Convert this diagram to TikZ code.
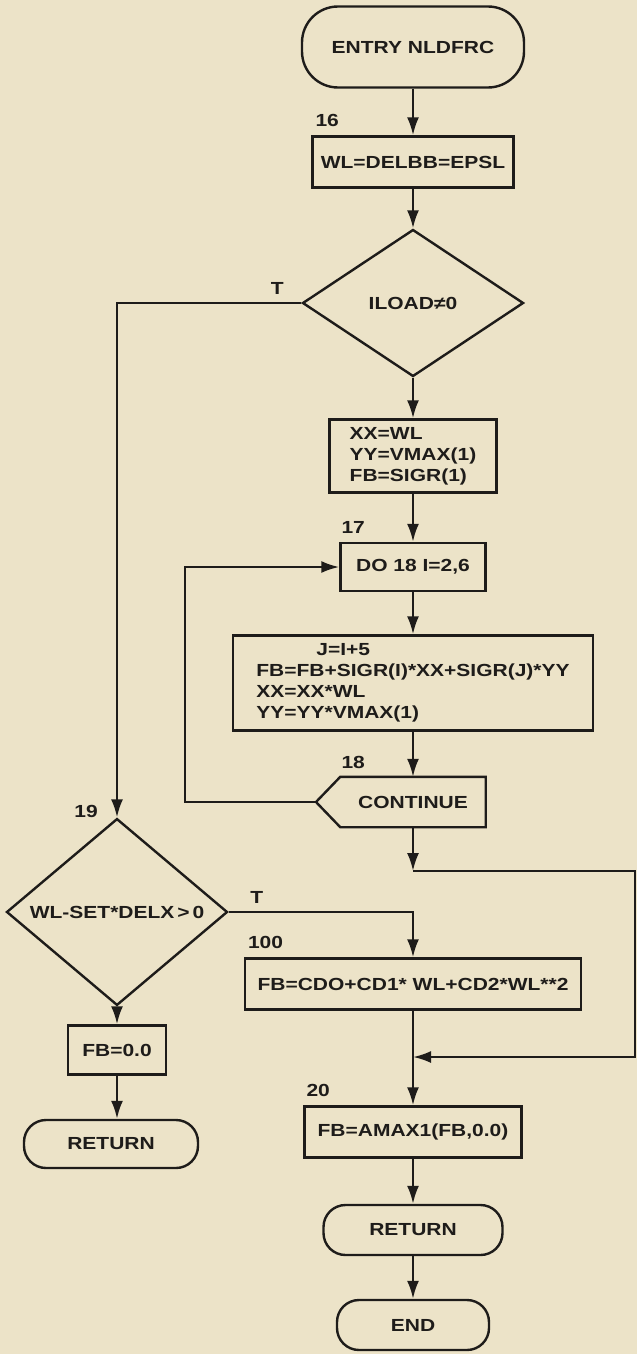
\documentclass[tikz,border=0pt]{standalone}
\usepackage{fontspec}
\newfontfamily\chartfont[FakeStretch=1.2]{Liberation Sans}
\usetikzlibrary{shapes.geometric,arrows.meta}
\definecolor{paper}{RGB}{236,227,200}
\definecolor{ink}{RGB}{30,28,26}

\begin{document}
\begin{tikzpicture}[x=1pt,y=-1pt,
    every node/.style={font=\chartfont\bfseries\fontsize{17.5}{21}\selectfont, text=ink},
    box/.style={draw=ink, line width=2.4pt, rectangle, inner sep=0pt},
    term/.style={box, rounded corners=22pt},
    decision/.style={draw=ink, line width=2.4pt, diamond, inner sep=0pt},
    num/.style={anchor=south west, inner sep=0pt},
    flow/.style={draw=ink, line width=2.4pt, ->, >={Latex[length=18pt,width=12pt]}},
    wire/.style={draw=ink, line width=2.4pt}]

    \def \colx {413}
    \def \lcolx {117}
    % paper
    \fill[paper] (0,0) rectangle (637,1354);

    % main column
    \node[term, minimum width=222pt, minimum height=81pt, rounded corners=36pt] (entry) at (\colx,47) {ENTRY NLDFRC};
    \node[box, minimum width=201pt, minimum height=51pt] (init) at (\colx,162) {WL=DELBB=EPSL};
    \node[decision, minimum width=221pt, minimum height=147pt] (iload) at (\colx,303) {ILOAD≠0};
    \node[box, minimum width=167pt, minimum height=73pt, align=left] (setxy) at (\colx,456) {XX=WL\\YY=VMAX(1)\\FB=SIGR(1)};
    \node[box, minimum width=145pt, minimum height=48pt] (doloop) at (\colx,567) {DO 18 I=2,6};
    \node[box, minimum width=360pt, minimum height=95pt, align=left] (body) at (\colx,683)
      {\hspace*{60pt}J=I+5\\FB=FB+SIGR(I)*XX+SIGR(J)*YY\\XX=XX*WL\\YY=YY*VMAX(1)};
    \node[minimum width=145pt, minimum height=50pt, inner sep=0pt] (cont) at (\colx,802) {CONTINUE};
    \coordinate (contpt) at (316,802);
    \draw[wire] (cont.north west) -- (contpt) -- (cont.south west) -- (cont.south east) -- (cont.north east) -- cycle;
    \node[box, minimum width=336pt, minimum height=51pt] (calc) at (\colx,984) {FB=CDO+CD1* WL+CD2*WL**2};
    \node[box, minimum width=217pt, minimum height=51pt] (amax) at (\colx,1132) {FB=AMAX1(FB,0.0)};
    \node[term, minimum width=179pt, minimum height=50pt] (ret) at (\colx,1230) {RETURN};
    \node[term, minimum width=152pt, minimum height=50pt] (fin) at (\colx,1325) {END};

    % left column
    \node[decision, minimum width=221pt, minimum height=144pt] (setchk) at (\lcolx,912) {WL-SET*DELX\,>\,0};
    \node[box, minimum width=98pt, minimum height=49pt] (zero) at (\lcolx,1050) {FB=0.0};
    \node[term, minimum width=174pt, minimum height=48pt] (retl) at (111,1144) {RETURN};

    % statement numbers and branch labels
    \node[num] (n16) at ([xshift=4pt,yshift=8pt]init.north west) {16};
    \node[num] (n17) at ([xshift=2pt,yshift=8pt]doloop.north west) {17};
    \node[num] (n18) at ([xshift=1pt,yshift=8pt]cont.north west) {18};
    \node[num, anchor=south east] (n19) at ([xshift=-19pt]setchk.north) {19};
    \node[num] (n100) at ([xshift=4pt,yshift=8pt]calc.north west) {100};
    \node[num] (n20) at ([xshift=3pt,yshift=8pt]amax.north west) {20};
    \node[anchor=south, inner sep=0pt] (t1) at ([xshift=-24pt,yshift=8pt]iload.west) {T};
    \node[anchor=south, inner sep=0pt] (t2) at ([xshift=28pt,yshift=8pt]setchk.east) {T};

    % connectors
    \coordinate (loopl) at (185,802);
    \coordinate (jn) at (\colx,871);
    \coordinate (rtop) at (635,871);
    \coordinate (merge) at (\colx,1057);
    \draw[flow] (entry) -- (init);
    \draw[flow] (init) -- (iload);
    \draw[flow] (iload) -- (setxy);
    \draw[flow] (setxy) -- (doloop);
    \draw[flow] (doloop) -- (body);
    \draw[flow] (body) -- (cont);
    \draw[flow] (contpt) -- (loopl) |- (doloop.west);
    \draw[flow] (iload.west) -| (setchk.north);
    \draw[flow] (setchk.east) -| (calc.north);
    \draw[flow] (cont.south) -- (jn);
    \draw[flow] (jn) -- (rtop) |- (merge);
    \draw[flow] (calc) -- (amax);
    \draw[flow] (amax) -- (ret);
    \draw[flow] (ret) -- (fin);
    \draw[flow] (setchk) -- (zero);
    \draw[flow] (zero.south) -- (zero.south |- retl.north);
\end{tikzpicture}
\end{document}
